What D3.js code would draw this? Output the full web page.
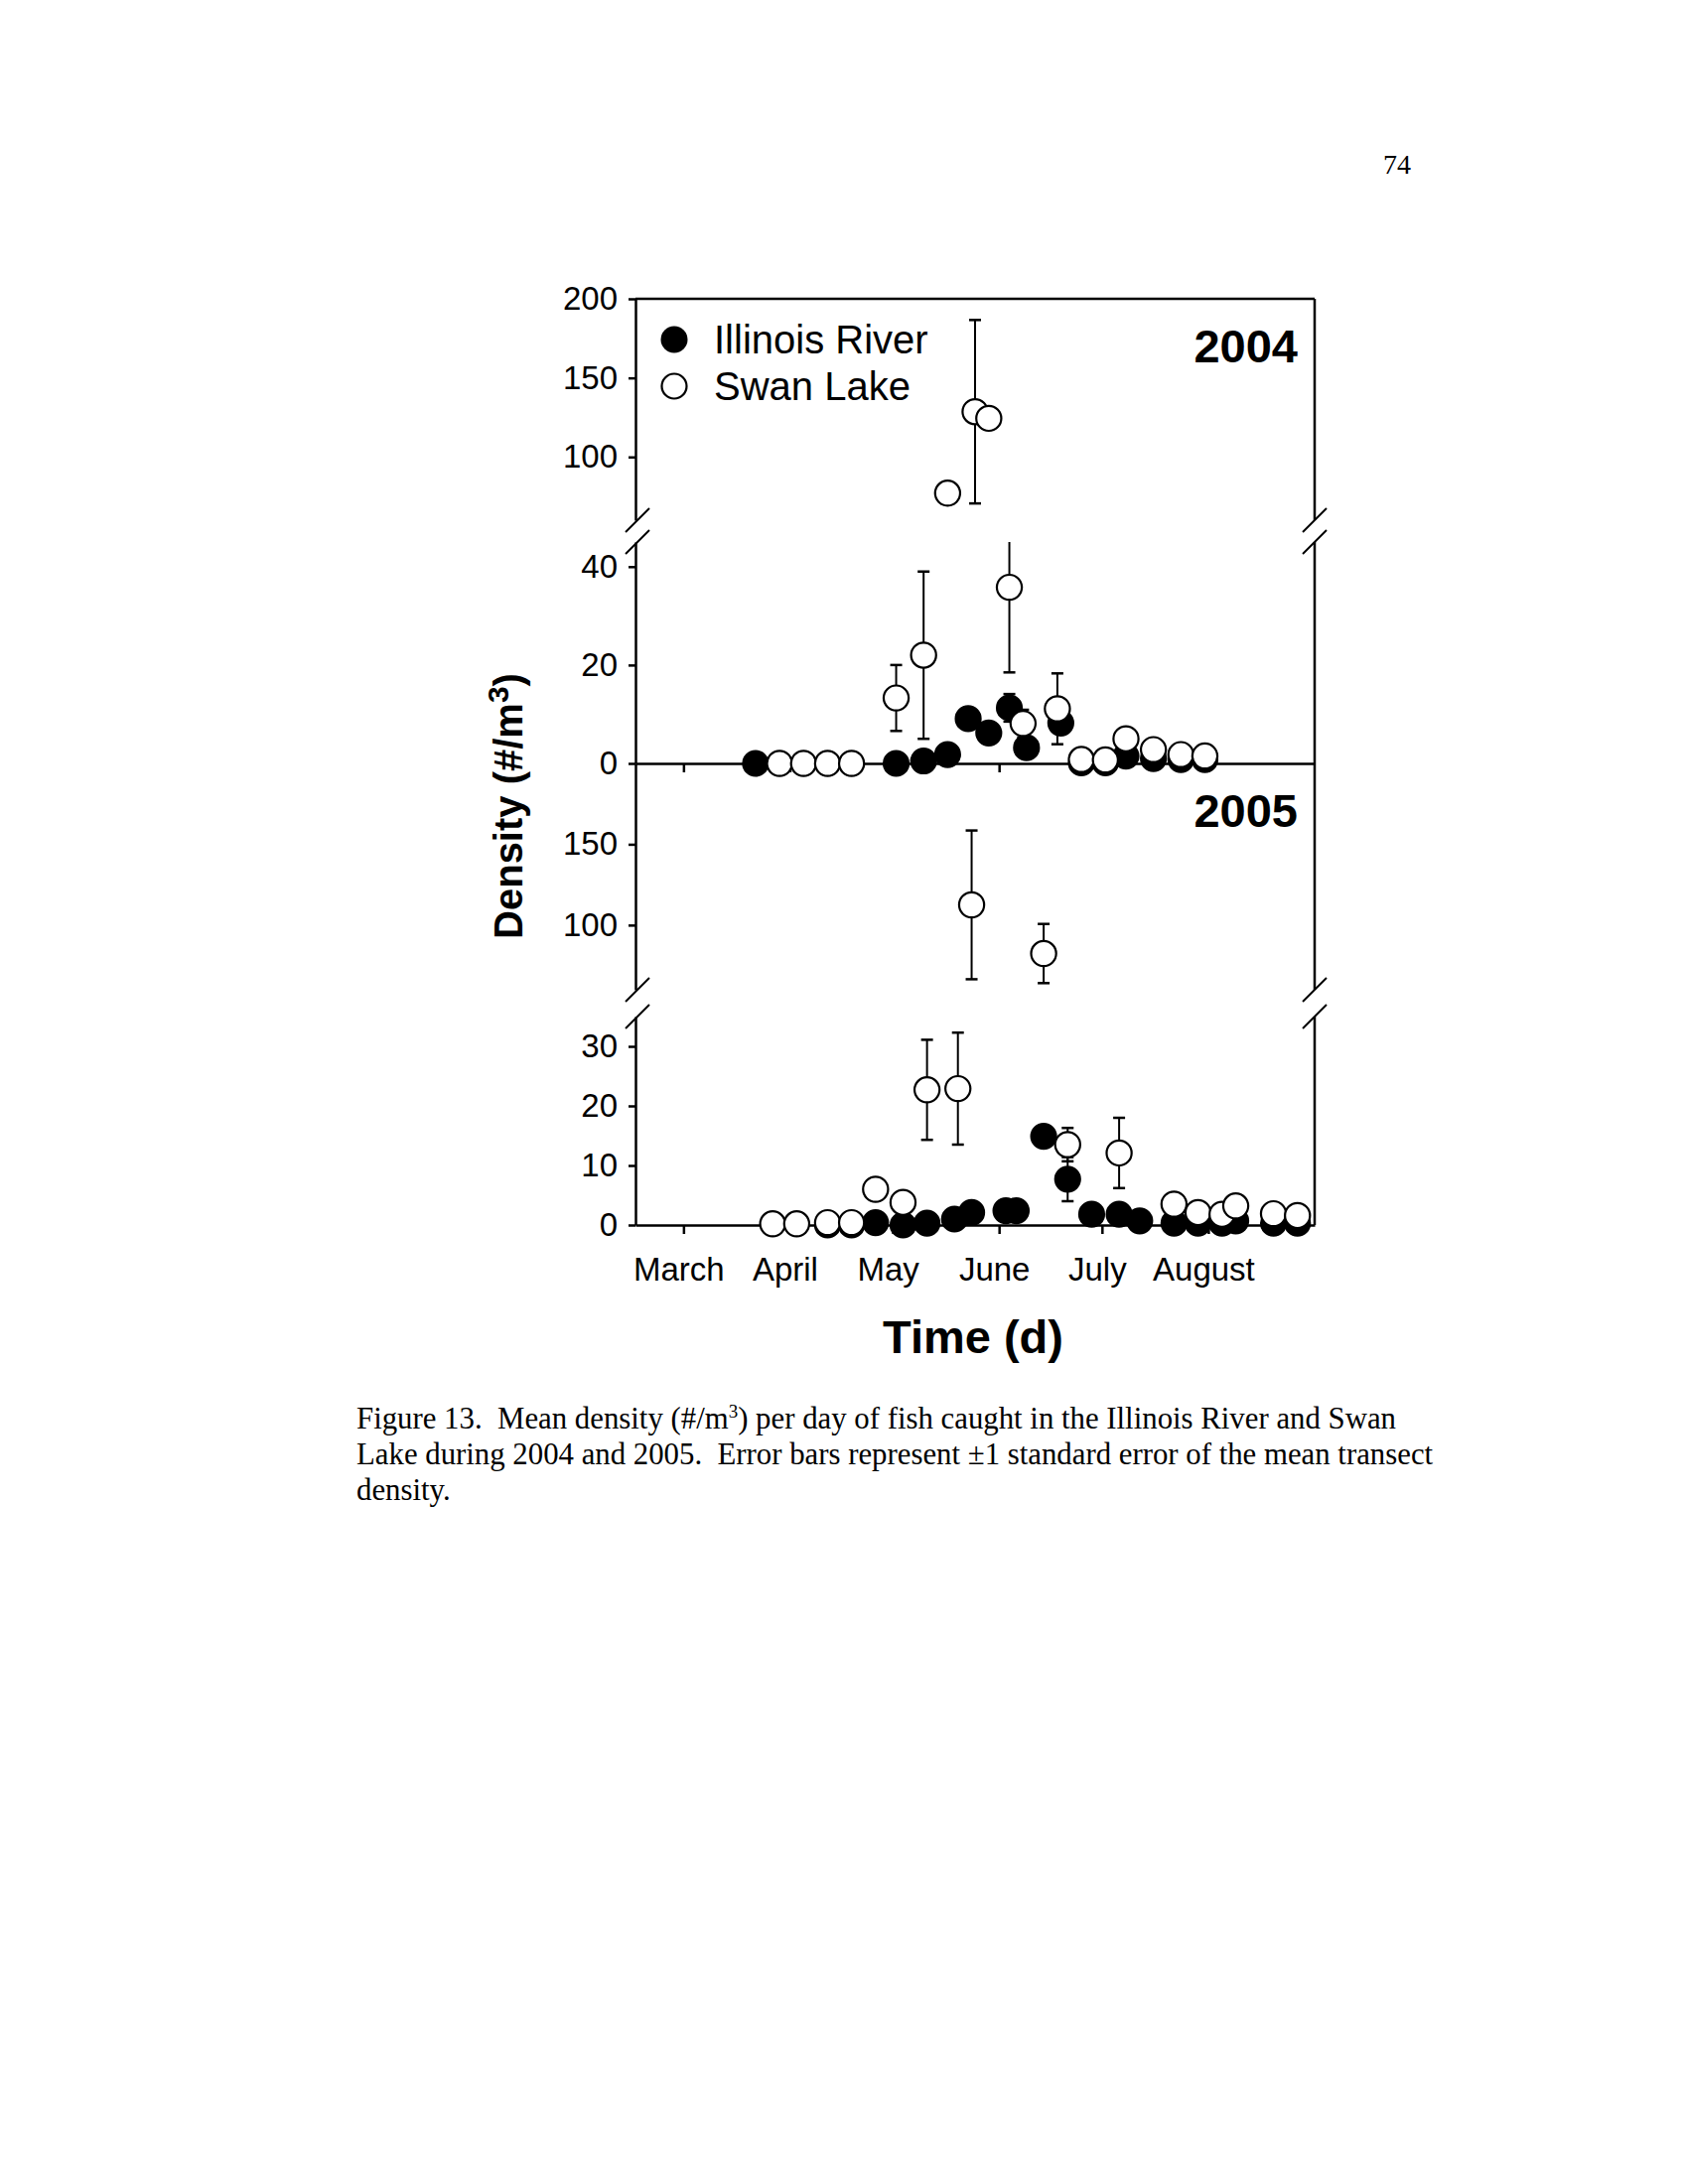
<!DOCTYPE html>
<html><head><meta charset="utf-8">
<script src="https://cdn.jsdelivr.net/npm/d3@7"></script>
<style>body{margin:0;background:#fff} svg{display:block}</style>
</head><body>
<script>
// ---------- data ----------
const months = ["March","April","May","June","July","August"];
const monthStarts = ["03-01","04-01","05-01","06-01","07-01","08-01"];

const yTicks2004Upper = [100,150,200];
const yTicks2004Lower = [0,20,40];
const yTicks2005Upper = [100,150];
const yTicks2005Lower = [0,10,20,30];

const seriesNames = ["Illinois River","Swan Lake"];
const years = ["2004","2005"];

const il2004Dates = ["03-22","05-02","05-10","05-17","05-23","05-29","06-04","06-09","06-19","06-25","07-02","07-08","07-16","07-24","07-31"];
const il2004Mean  = [0,0,0.5,1.8,9.1,6.2,11.3,3.2,8.2,0.1,0.1,1.5,1.0,0.8,0.8];
const il2004SE    = [0,0,0,0,0,0,2.8,0,0,0,0,0,0,0,0];

const sl2004Dates = ["03-29","04-05","04-12","04-19","05-02","05-10","05-17","05-25","05-29","06-04","06-08","06-18","06-25","07-02","07-08","07-16","07-24","07-31"];
const sl2004Mean  = [0,0,0,0,13.3,22.0,77.1,128.6,124.4,35.8,8.1,11.1,0.8,0.7,5.0,2.8,1.8,1.5];
const sl2004SE    = [0,0,0,0,6.7,17.0,0,58,0,17.3,2.8,7.2,0,0,0,0,0,0];

const il2005Dates = ["04-12","04-19","04-26","05-04","05-11","05-19","05-24","06-03","06-06","06-14","06-21","06-28","07-06","07-12","07-22","07-29","08-05","08-09","08-20","08-27"];
const il2005Mean  = [0,0,0.4,0,0.3,1.0,2.1,2.4,2.4,14.9,7.7,1.8,1.8,0.7,0.3,0.3,0.3,0.7,0.3,0.3];
const il2005SE    = [0,0,0,0,0,0,0,0,0,0,3.7,0,0,0,0,0,0,0,0,0];

const sl2005Dates = ["03-27","04-03","04-12","04-19","04-26","05-04","05-11","05-20","05-24","06-14","06-21","07-06","07-22","07-29","08-05","08-09","08-20","08-27"];
const sl2005Mean  = [0.2,0.2,0.4,0.4,6.0,3.8,22.7,22.9,112.5,82.4,13.5,12.1,3.5,2.1,1.8,3.2,1.9,1.6];
const sl2005SE    = [0,0,0,0,0,0,8.4,9.4,46,18.3,2.8,5.9,0,0,0,0,0,0];

// ---------- layout ----------
const W = 1696, H = 2200;
const X0 = 640, X1 = 1324;
const SANS = "'Liberation Sans', Arial, sans-serif";
const SERIF = "'Liberation Serif', 'Times New Roman', serif";
const LW = 2.5;
const R = 12.6;

const parse = s => d3.timeParse("%Y-%m-%d")("2005-" + s);
const x = d3.scaleTime().domain([parse("02-15"), parse("09-01")]).range([X0, X1]);

const panels = [
  { year: years[0], labelY: 365,
    segs: [
      { y: d3.scaleLinear().domain([60,200]).range([524,301]), ticks: yTicks2004Upper, breakBottom: true },
      { y: d3.scaleLinear().domain([0,45]).range([769,546]), ticks: yTicks2004Lower, breakTop: true }
    ],
    il: {dates: il2004Dates, mean: il2004Mean, se: il2004SE},
    sl: {dates: sl2004Dates, mean: sl2004Mean, se: sl2004SE},
    monthLabels: false },
  { year: years[1], labelY: 833,
    segs: [
      { y: d3.scaleLinear().domain([60,200]).range([997,769]), ticks: yTicks2005Upper, breakBottom: true },
      { y: d3.scaleLinear().domain([0,35]).range([1234,1024]), ticks: yTicks2005Lower, breakTop: true }
    ],
    il: {dates: il2005Dates, mean: il2005Mean, se: il2005SE},
    sl: {dates: sl2005Dates, mean: sl2005Mean, se: sl2005SE},
    monthLabels: true }
];

const svg = d3.select("body").append("svg").attr("width", W).attr("height", H)
  .style("background", "#fff");

// page number
svg.append("text").attr("x", 1393).attr("y", 175).attr("font-family", SERIF)
  .attr("font-size", 28).text("74");

// frame top
svg.append("line").attr("x1", X0).attr("x2", X1)
  .attr("y1", panels[0].segs[0].y(200)).attr("y2", panels[0].segs[0].y(200))
  .attr("stroke", "#000").attr("stroke-width", LW);

function styleAxis(g, fs) {
  g.select(".domain").attr("stroke-width", LW);
  g.selectAll(".tick line").attr("stroke-width", LW);
  g.selectAll(".tick text").attr("font-family", SANS).attr("font-size", fs).attr("fill", "#000");
}

panels.forEach(p => {
  const g = svg.append("g");
  // y axes per segment
  p.segs.forEach(s => {
    const ax = d3.axisLeft(s.y).tickValues(s.ticks).tickSize(7).tickSizeOuter(0).tickPadding(11).tickFormat(d3.format("d"));
    g.append("g").attr("transform", `translate(${X0},0)`).call(ax).call(a => styleAxis(a, 33));
    // right border
    g.append("line").attr("x1", X1).attr("x2", X1)
      .attr("y1", s.y.range()[0]).attr("y2", s.y.range()[1])
      .attr("stroke", "#000").attr("stroke-width", LW);
    // break marks
    const ends = [];
    if (s.breakBottom) ends.push(s.y.range()[0]);
    if (s.breakTop) ends.push(s.y.range()[1]);
    ends.forEach(yy => {
      [X0 + 2, X1].forEach(xx => {
        g.append("line").attr("x1", xx - 12).attr("y1", yy + 12)
          .attr("x2", xx + 12).attr("y2", yy - 12)
          .attr("stroke", "#000").attr("stroke-width", 2);
      });
    });
  });
  // bottom (zero) axis
  const low = p.segs[1];
  const xa = d3.axisBottom(x).tickValues(monthStarts.map(parse)).tickSize(9).tickSizeOuter(0).tickPadding(24)
    .tickFormat((d, i) => p.monthLabels ? months[i] : "");
  g.append("g").attr("transform", `translate(0,${low.y(0)})`).call(xa)
    .call(a => styleAxis(a, 33)).call(a => a.selectAll(".tick text").attr("dx", -5));

  // year label
  g.append("text").attr("x", 1307).attr("y", p.labelY).attr("text-anchor", "end")
    .attr("font-family", SANS).attr("font-weight", "bold").attr("font-size", 47).text(p.year);

  const segFor = v => p.segs.find(s => v >= s.y.domain()[0] && v <= s.y.domain()[1]) || p.segs[1];

  // error bars
  [p.il, p.sl].forEach(ser => {
    ser.dates.forEach((dt, i) => {
      const m = ser.mean[i], e = ser.se[i];
      if (!e) return;
      const s = segFor(m);
      const [d0, d1] = s.y.domain();
      const lo = m - e, hi = m + e;
      const cx = x(parse(dt));
      const yLo = s.y(Math.max(lo, d0)), yHi = s.y(Math.min(hi, d1));
      g.append("line").attr("x1", cx).attr("x2", cx).attr("y1", yLo).attr("y2", yHi)
        .attr("stroke", "#000").attr("stroke-width", 2);
      if (lo >= d0) g.append("line").attr("x1", cx - 6).attr("x2", cx + 6).attr("y1", yLo).attr("y2", yLo)
        .attr("stroke", "#000").attr("stroke-width", 2.5);
      if (hi <= d1) g.append("line").attr("x1", cx - 6).attr("x2", cx + 6).attr("y1", yHi).attr("y2", yHi)
        .attr("stroke", "#000").attr("stroke-width", 2.5);
    });
  });

  // filled markers (Illinois River)
  g.append("g").selectAll("circle").data(p.il.dates.map((d, i) => ({d, v: p.il.mean[i]})))
    .join("circle").attr("cx", o => x(parse(o.d))).attr("cy", o => segFor(o.v).y(o.v))
    .attr("r", R).attr("fill", "#000").attr("stroke", "#000").attr("stroke-width", 2);
  // open markers (Swan Lake)
  g.append("g").selectAll("circle").data(p.sl.dates.map((d, i) => ({d, v: p.sl.mean[i]})))
    .join("circle").attr("cx", o => x(parse(o.d))).attr("cy", o => segFor(o.v).y(o.v))
    .attr("r", R).attr("fill", "#fff").attr("stroke", "#000").attr("stroke-width", 2.2);
});

// legend
const lg = svg.append("g");
lg.append("circle").attr("cx", 679).attr("cy", 342).attr("r", 13.5).attr("fill", "#000");
lg.append("circle").attr("cx", 679).attr("cy", 389).attr("r", 12.5).attr("fill", "#fff")
  .attr("stroke", "#000").attr("stroke-width", 2.2);
lg.append("text").attr("x", 719).attr("y", 356).attr("font-family", SANS).attr("font-size", 40).text(seriesNames[0]);
lg.append("text").attr("x", 719).attr("y", 403).attr("font-family", SANS).attr("font-size", 40).text(seriesNames[1]);

// axis titles
const yt = svg.append("text").attr("transform", "translate(526,812) rotate(-90)")
  .attr("text-anchor", "middle").attr("font-family", SANS).attr("font-weight", "bold").attr("font-size", 40);
yt.append("tspan").text("Density (#/m");
yt.append("tspan").attr("dy", -14).attr("font-size", 30).text("3");
yt.append("tspan").attr("dy", 14).text(")");

svg.append("text").attr("x", 980).attr("y", 1363).attr("text-anchor", "middle")
  .attr("font-family", SANS).attr("font-weight", "bold").attr("font-size", 47).text("Time (d)");

// caption
const cap = svg.append("g").attr("font-family", SERIF).attr("font-size", 30.8).attr("fill", "#000");
const l1 = cap.append("text").attr("x", 359).attr("y", 1439);
l1.append("tspan").text("Figure 13.\u00A0 Mean density (#/m");
l1.append("tspan").attr("dy", -11).attr("font-size", 19).text("3");
l1.append("tspan").attr("dy", 11).text(") per day of fish caught in the Illinois River and Swan");
cap.append("text").attr("x", 359).attr("y", 1475)
  .text("Lake during 2004 and 2005.\u00A0 Error bars represent \u00B11 standard error of the mean transect");
cap.append("text").attr("x", 359).attr("y", 1511).text("density.");
</script>
</body></html>
